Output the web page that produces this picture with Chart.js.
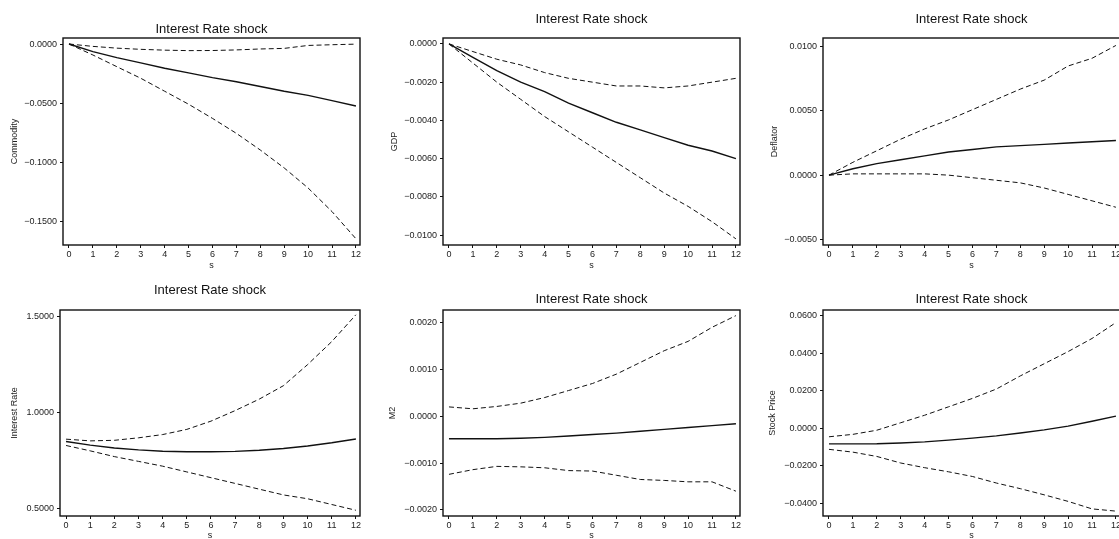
<!DOCTYPE html>
<html lang="en">
<head>
    <meta charset="UTF-8">
    <title>Interest Rate shock</title>
    <script src="https://cdn.jsdelivr.net/npm/chart.js"></script>
    <style>
        body {
            margin: 0;
            background: #ffffff;
            width: 1119px;
            height: 539px;
            overflow: hidden;
            position: relative;
        }
        canvas {
            position: absolute;
        }
    </style>
</head>
<body>
    <script>
        // Horizon (steps after the shock)
        const steps = [0, 1, 2, 3, 4, 5, 6, 7, 8, 9, 10, 11, 12];

        // Commodity response and band
        const commodityIrf = [0, -0.0065, -0.0115, -0.016, -0.0205, -0.0245, -0.0285, -0.032, -0.036, -0.040, -0.0435, -0.048, -0.0525];
        const commodityLo = [0, -0.0093, -0.0192, -0.029, -0.040, -0.051, -0.063, -0.0757, -0.0898, -0.105, -0.122, -0.142, -0.165];
        const commodityHi = [0, -0.002, -0.0035, -0.0045, -0.0052, -0.0056, -0.0055, -0.005, -0.0042, -0.0037, -0.0012, -0.0006, -0.0001];
        const commodityTicks = [0, -0.05, -0.10, -0.15];

        // GDP
        const gdpIrf = [0, -0.0007, -0.0014, -0.0020, -0.0025, -0.0031, -0.0036, -0.0041, -0.0045, -0.0049, -0.0053, -0.0056, -0.0060];
        const gdpLo = [0, -0.0010, -0.0020, -0.0029, -0.0038, -0.0046, -0.0054, -0.0062, -0.0070, -0.0078, -0.0085, -0.0093, -0.0102];
        const gdpHi = [0, -0.0004, -0.0008, -0.0011, -0.0015, -0.0018, -0.0020, -0.0022, -0.0022, -0.0023, -0.0022, -0.0020, -0.0018];
        const gdpTicks = [0, -0.002, -0.004, -0.006, -0.008, -0.010];

        // Deflator
        const deflatorIrf = [0, 0.0005, 0.0009, 0.0012, 0.0015, 0.0018, 0.0020, 0.0022, 0.0023, 0.0024, 0.0025, 0.0026, 0.0027];
        const deflatorLo = [0, 0.0001, 0.0001, 0.0001, 0.0001, 0.0000, -0.0002, -0.0004, -0.0006, -0.0010, -0.0015, -0.0020, -0.0025];
        const deflatorHi = [0, 0.0010, 0.0019, 0.0028, 0.0036, 0.0043, 0.0051, 0.0059, 0.0067, 0.0074, 0.0085, 0.0091, 0.0101];
        const deflatorTicks = [0.01, 0.005, 0, -0.005];

        // Interest rate
        const rateIrf = [0.849, 0.83, 0.815, 0.805, 0.798, 0.795, 0.795, 0.797, 0.803, 0.812, 0.825, 0.842, 0.862];
        const rateLo = [0.828, 0.80, 0.77, 0.745, 0.72, 0.69, 0.66, 0.63, 0.60, 0.57, 0.55, 0.52, 0.49];
        const rateHi = [0.861, 0.852, 0.855, 0.868, 0.885, 0.912, 0.955, 1.010, 1.07, 1.14, 1.25, 1.37, 1.51];
        const rateTicks = [1.5, 1.0, 0.5];

        // M2
        const m2Irf = [-0.00048, -0.00048, -0.00048, -0.00047, -0.00045, -0.00042, -0.00039, -0.00036, -0.00032, -0.00028, -0.00024, -0.0002, -0.00016];
        const m2Lo = [-0.00124, -0.00114, -0.00107, -0.00108, -0.0011, -0.00116, -0.00117, -0.00126, -0.00135, -0.00137, -0.0014, -0.0014, -0.0016];
        const m2Hi = [0.0002, 0.00016, 0.00021, 0.00028, 0.0004, 0.00055, 0.0007, 0.0009, 0.00115, 0.0014, 0.0016, 0.0019, 0.00215];
        const m2Ticks = [0.002, 0.001, 0, -0.001, -0.002];

        // Stock price
        const stockIrf = [-0.0083, -0.0083, -0.0082, -0.0078, -0.0072, -0.0063, -0.0052, -0.004, -0.0025, -0.0008, 0.0012, 0.0038, 0.0065];
        const stockLo = [-0.0112, -0.0127, -0.015, -0.0185, -0.021, -0.0232, -0.0257, -0.0292, -0.0322, -0.0355, -0.039, -0.043, -0.0442];
        const stockHi = [-0.0045, -0.0032, -0.001, 0.003, 0.007, 0.0115, 0.016, 0.021, 0.028, 0.0345, 0.041, 0.048, 0.0565];
        const stockTicks = [0.06, 0.04, 0.02, 0, -0.02, -0.04];

        const shockTitle = 'Interest Rate shock';

        // canvas rect, plot box [l, t, r, b], title centre y, y-title centre x, "s" centre y
        const panels = [
            { name: 'Commodity', irf: commodityIrf, lo: commodityLo, hi: commodityHi, ticks: commodityTicks,
              yMin: -0.1703, yMax: 0.0051,
              cv: [0, 0, 372, 280], box: [63, 38, 360, 245], titleY: 29, yTitleX: 15, sY: 266 },
            { name: 'GDP', irf: gdpIrf, lo: gdpLo, hi: gdpHi, ticks: gdpTicks,
              yMin: -0.01052, yMax: 0.00031,
              cv: [378, 0, 372, 280], box: [443, 38, 740, 245], titleY: 19, yTitleX: 395, sY: 266 },
            { name: 'Deflator', irf: deflatorIrf, lo: deflatorLo, hi: deflatorHi, ticks: deflatorTicks,
              yMin: -0.00544, yMax: 0.01068,
              cv: [752, 0, 380, 280], box: [823, 38, 1120, 245], titleY: 19, yTitleX: 775, sY: 266 },
            { name: 'Interest Rate', irf: rateIrf, lo: rateLo, hi: rateHi, ticks: rateTicks,
              yMin: 0.46, yMax: 1.535,
              cv: [0, 272, 372, 280], box: [60, 310, 360, 516], titleY: 290, yTitleX: 15, sY: 536 },
            { name: 'M2', irf: m2Irf, lo: m2Lo, hi: m2Hi, ticks: m2Ticks,
              yMin: -0.00213, yMax: 0.00227,
              cv: [378, 272, 372, 280], box: [443, 310, 740, 516], titleY: 299, yTitleX: 393, sY: 536 },
            { name: 'Stock Price', irf: stockIrf, lo: stockLo, hi: stockHi, ticks: stockTicks,
              yMin: -0.0468, yMax: 0.0632,
              cv: [752, 272, 380, 280], box: [823, 310, 1120, 516], titleY: 299, yTitleX: 773, sY: 536 }
        ];

        Chart.defaults.font.family = '"Liberation Sans", Arial, Helvetica, sans-serif';
        Chart.defaults.color = '#222';

        // full box round the plot region
        const framePlugin = {
            id: 'frame',
            afterDatasetsDraw(chart) {
                const { ctx, chartArea: a } = chart;
                ctx.save();
                ctx.strokeStyle = '#111';
                ctx.lineWidth = 1.4;
                ctx.strokeRect(a.left, a.top, a.right - a.left, a.bottom - a.top);
                ctx.restore();
            }
        };

        const fmt = v => (v < 0 ? '\u2212' : '') + Math.abs(v).toFixed(4);
        const pts = arr => steps.map((s, i) => ({ x: s, y: arr[i] }));

        panels.forEach(p => {
            const [cl, ct, cw, ch] = p.cv;
            const [bl, bt, br, bb] = p.box;
            const canvas = document.createElement('canvas');
            canvas.width = cw;
            canvas.height = ch;
            canvas.style.left = cl + 'px';
            canvas.style.top = ct + 'px';
            document.body.appendChild(canvas);

            const titleLine = 13 * 1.2;
            const band = (data) => ({
                data: pts(data),
                borderColor: '#111',
                borderWidth: 1,
                borderDash: [5, 3],
                pointRadius: 0,
                tension: 0,
                fill: false
            });

            new Chart(canvas, {
                type: 'line',
                data: {
                    datasets: [
                        band(p.hi),
                        band(p.lo),
                        {
                            data: pts(p.irf),
                            borderColor: '#111',
                            borderWidth: 1.4,
                            pointRadius: 0,
                            tension: 0,
                            fill: false
                        }
                    ]
                },
                options: {
                    responsive: false,
                    animation: false,
                    devicePixelRatio: 1,
                    layout: { padding: { left: 0, top: 0, right: cl + cw - br, bottom: 0 } },
                    plugins: {
                        legend: { display: false },
                        tooltip: { enabled: false },
                        title: {
                            display: true,
                            text: shockTitle,
                            fullSize: false,
                            color: '#111',
                            font: { size: 13, weight: 'normal' },
                            padding: {
                                top: p.titleY - ct - titleLine / 2,
                                bottom: bt - p.titleY - titleLine / 2
                            }
                        }
                    },
                    scales: {
                        x: {
                            type: 'linear',
                            min: -0.25,
                            max: 12.17,
                            afterBuildTicks: s => { s.ticks = steps.map(v => ({ value: v })); },
                            afterFit: s => {
                                s.height = ct + ch - bb;
                                s.paddingLeft = 0; s.paddingRight = 0;
                            },
                            grid: { display: true, drawOnChartArea: false, drawTicks: true, tickLength: 3, color: '#111' },
                            border: { display: false },
                            ticks: { font: { size: 9 }, padding: 1, maxRotation: 0, autoSkip: false, callback: v => String(v) },
                            title: {
                                display: true,
                                text: 's',
                                font: { size: 9 },
                                padding: { top: 0, bottom: ct + ch - p.sY - 5.4 }
                            }
                        },
                        y: {
                            type: 'linear',
                            min: p.yMin,
                            max: p.yMax,
                            afterBuildTicks: s => { s.ticks = p.ticks.map(v => ({ value: v })); },
                            afterFit: s => {
                                s.width = bl - cl;
                                s.paddingTop = 0; s.paddingBottom = 0;
                            },
                            grid: { display: true, drawOnChartArea: false, drawTicks: true, tickLength: 3, color: '#111' },
                            border: { display: false },
                            ticks: { font: { size: 9 }, padding: 3, callback: v => fmt(v) },
                            title: {
                                display: true,
                                text: p.name,
                                font: { size: 9 },
                                padding: { top: p.yTitleX - cl - 5.4, bottom: 0 }
                            }
                        }
                    }
                },
                plugins: [framePlugin]
            });
        });
    </script>
</body>
</html>
